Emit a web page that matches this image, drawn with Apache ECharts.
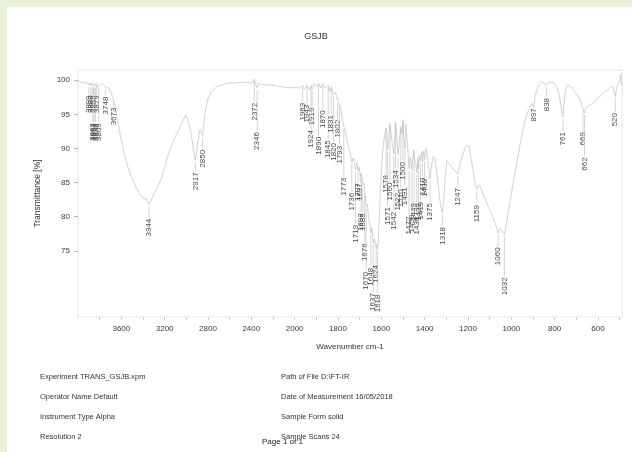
<!DOCTYPE html>
<html>
<head>
<meta charset="utf-8">
<script src="https://cdn.jsdelivr.net/npm/echarts@6/dist/echarts.min.js"></script>
<style>
html,body{margin:0;padding:0;background:#e8f0dc;}
#paper{position:absolute;left:7px;top:7px;width:625px;height:445px;background:#ffffff;}
#chart{position:absolute;left:0;top:0;width:632px;height:452px;}
</style>
</head>
<body>
<div id="paper"></div>
<div id="chart"></div>
<script>
// ---- spectrum (wavenumber cm-1, transmittance %) ----
const wavenumbers = [
4000,3980,3960,3940,3920,3900,3890,3880,3870,3855,3845,3838,3828,3819,3809,3790,3770,3748,3730,3710,3690,3673,3660,3640,3620,3600,3570,3540,3500,3460,3430,3400,3385,3370,3344,3320,3290,3260,3230,3200,3170,3140,3100,3060,3030,3005,2990,2970,2950,2935,2917,2905,2890,2875,2862,2850,2838,2820,2800,2770,2740,2700,2650,2600,2550,2500,2450,2400,2380,2372,2365,2355,2346,2338,2320,2300,2260,2220,2180,2140,2100,2060,2030,2000,
1990,1980,1963,1955,1943,1930,1924,1919,1910,1900,1890,1880,1870,1860,1845,1838,1831,1820,1810,1802,1793,1785,1780,1773,1766,1758,1750,1743,1736,1730,1724,1719,1713,1707,1702,1697,1693,1689,1685,1680,1676,1670,1664,1658,1652,1648,1643,1637,1632,1628,1624,1620,1618,1614,1610,1605,1600,1595,1590,1585,1578,1575,1571,1566,1560,1555,1549,1542,1537,1534,1529,1522,1517,1510,1505,1500,1496,1491,1487,1483,1478,1472,1467,1462,1459,1455,1450,1445,1440,1436,1432,1429,1425,1419,1414,1410,1405,1400,1394,1388,1382,1375,1368,1360,1352,1344,1335,1326,1318,1312,1305,1298,1290,1280,1270,1260,1247,1238,1228,1215,1205,1195,1185,1175,1165,1159,1150,1140,1130,1115,1100,1085,1070,1060,1052,1045,1038,1032,1025,1015,1005,995,985,975,965,955,945,935,925,915,905,897,890,880,870,860,850,838,828,815,800,790,780,772,766,761,756,750,740,725,710,700,690,680,672,669,665,662,656,645,630,615,600,585,570,555,540,530,525,520,515,508,500,495,491,489
];
const transmittance = [
99.9,99.8,99.7,99.6,99.7,99.3,99.6,99.2,99.6,99.1,99.5,99.2,99.5,99.0,99.2,99.5,99.4,99.0,99.2,98.8,98.0,97.2,96.3,94.6,92.8,91.2,89.0,87.3,85.6,84.2,83.3,82.7,82.9,82.6,81.8,82.6,83.5,84.6,85.6,87.2,89.0,90.3,91.8,93.0,94.1,94.9,94.9,93.4,91.6,90.0,88.3,89.5,91.5,92.7,92.5,91.9,93.6,95.8,97.3,98.3,98.8,99.2,99.4,99.6,99.6,99.7,99.7,99.6,99.6,100.2,99.5,99.4,98.9,99.5,99.5,99.4,99.3,99.3,99.2,99.1,99.0,98.9,98.9,98.9,
99.0,98.8,99.2,98.7,99.3,98.6,99.2,98.7,99.5,99.1,99.6,98.9,99.5,98.8,99.3,98.4,99.0,97.9,98.2,97.0,96.6,95.5,94.4,93.2,92.6,91.0,90.1,89.2,88.0,88.6,87.7,86.9,87.9,86.7,87.3,85.9,86.4,85.4,84.6,84.9,83.5,81.5,81.8,79.6,78.8,77.6,78.3,76.2,76.8,75.9,75.5,75.9,75.2,76.5,79.5,83.0,86.5,89.0,90.6,91.8,93.0,92.0,89.8,91.5,93.6,92.2,90.6,89.2,91.8,93.8,92.0,89.0,91.0,93.2,92.1,94.2,91.4,90.0,93.5,92.0,90.0,87.0,88.7,88.0,86.8,88.5,89.8,88.2,87.6,86.4,88.5,87.0,89.0,88.1,89.5,88.0,89.6,88.4,90.0,89.0,87.5,85.6,87.5,88.8,88.5,86.5,84.0,81.5,80.6,82.5,85.5,88.2,88.4,87.6,87.0,86.7,86.3,87.5,88.8,89.9,90.5,90.3,88.5,86.5,84.5,84.0,84.6,84.2,83.2,82.2,81.0,79.9,78.6,77.6,78.3,78.1,77.7,77.4,78.5,80.5,82.4,84.3,86.0,87.8,89.6,91.3,92.9,94.3,95.3,96.0,96.6,96.0,97.6,98.8,99.4,99.7,99.6,99.3,99.7,99.7,99.5,99.0,98.0,96.5,95.0,94.6,96.8,98.6,99.3,99.0,98.5,98.0,97.5,96.9,96.2,95.8,95.9,95.2,96.0,96.2,96.5,96.8,97.4,97.8,98.3,98.6,99.1,99.0,98.2,97.6,98.5,99.4,99.8,100.8,99.6,99.3
];
// ---- peak annotations: wavenumber and the transmittance level where its label starts ----
const peakWavenumbers = [3899,3880,3855,3829,3863,3853,3839,3809,3748,3673,3344,2917,2850,2372,2346,1963,1943,1919,1924,1890,1870,1845,1831,1820,1802,1793,1773,1736,1719,1707,1697,1693,1685,1676,1670,1648,1637,1624,1618,1578,1571,1560,1542,1534,1522,1510,1500,1491,1472,1459,1449,1436,1429,1419,1410,1400,1375,1318,1247,1159,1060,1032,897,838,761,669,662,520];
const peakLabelLevels = [97.8,97.8,97.8,97.8,93.7,93.7,93.7,93.7,97.6,96.0,79.7,86.5,89.8,96.7,92.4,96.7,96.4,96.0,92.7,91.7,95.6,91.2,94.9,90.8,94.2,90.4,85.7,83.5,78.8,84.9,84.9,80.5,80.5,76.1,71.9,72.5,68.8,72.9,68.6,86.1,81.4,85.0,80.7,86.8,83.5,84.0,88.0,84.3,80.0,80.3,82.0,80.0,82.0,82.2,85.7,85.5,82.0,78.5,84.2,81.7,75.5,71.1,95.9,97.4,92.4,92.4,88.7,95.2];
// ---- axis tick labels ----
const xTickLabels = [3600,3200,2800,2400,2000,1800,1600,1400,1200,1000,800,600];
const xMinorTicks = [3800,3400,3000,2600,2200,1900,1700,1500,1300,1100,900,700,500];
const yTickLabels = [75,80,85,90,95,100];

// Wavenumber axis is compressed by a factor 2 above 2000 cm-1 (OPUS style)
function toT(w){ return w > 2000 ? 2000 + (w - 2000) / 2 : w; }
function fromT(t){ return t > 2000 ? 2000 + (t - 2000) * 2 : t; }
function curveAt(w){
  for (let i = 0; i < wavenumbers.length - 1; i++) {
    const a = wavenumbers[i], b = wavenumbers[i+1];
    if (w <= a && w >= b) {
      const f = (a - w) / (a - b);
      return transmittance[i] + f * (transmittance[i+1] - transmittance[i]);
    }
  }
  return transmittance[transmittance.length - 1];
}

const lineData = wavenumbers.map((w, i) => [toT(w), transmittance[i]]);
const peakData = peakWavenumbers.map((w, i) => [toT(w), peakLabelLevels[i], curveAt(w), w]);
const tickValues = xTickLabels.concat(xMinorTicks).map(toT);

const FONT = '"Liberation Sans", Arial, sans-serif';
const chart = echarts.init(document.getElementById('chart'), null, {renderer:'canvas'});
chart.setOption({
  backgroundColor: 'transparent',
  animation: false,
  title: {text:'GSJB', left:'center', top:27, textStyle:{fontSize:9, fontWeight:'normal', color:'#333', fontFamily:FONT}},
  grid: {left:78, right:10, top:70, bottom:135, show:true, borderColor:'#d0d0d0', borderWidth:1, borderType:'dotted', backgroundColor:'transparent'},
  xAxis: {
    type:'value', inverse:true, min:489, max:3000,
    name:'Wavenumber cm-1', nameLocation:'middle', nameGap:26,
    nameTextStyle:{fontSize:8, color:'#333', fontFamily:FONT},
    axisLine:{show:false},
    splitLine:{show:false},
    axisTick:{show:true, length:3, lineStyle:{color:'#c4c4c4', width:0.8}, customValues: tickValues},
    axisLabel:{fontSize:8, color:'#3a3a3a', fontFamily:FONT, margin:8, customValues: xTickLabels.map(toT),
      formatter: v => String(Math.round(fromT(v)))}
  },
  yAxis: {
    type:'value', min:65.3, max:101.5,
    name:'Transmittance [%]', nameLocation:'middle', nameGap:36, nameRotate:90,
    nameTextStyle:{fontSize:8.5, color:'#333', fontFamily:FONT},
    axisLine:{show:false},
    splitLine:{show:false},
    axisTick:{show:true, length:4, lineStyle:{color:'#a8a8a8', width:0.8}, customValues: yTickLabels},
    axisLabel:{fontSize:8, color:'#3a3a3a', fontFamily:FONT, margin:8, customValues: yTickLabels}
  },
  series: [
    {type:'line', data: lineData, showSymbol:false, smooth:false,
     lineStyle:{color:'#bdbdbd', width:0.7}, z:3},
    {type:'custom', data: peakData, z:4, clip:false,
     renderItem: function(params, api){
       const t = api.value(0);
       const top = api.coord([t, api.value(1)]);
       const c = api.coord([t, api.value(2)]);
       const children = [];
       if (top[1] - 1 > c[1] + 2) {
         children.push({type:'line', shape:{x1:top[0], y1:c[1]+2, x2:top[0], y2:top[1]-1},
           style:{stroke:'#b8b8b8', lineWidth:0.6}});
       }
       children.push({type:'text', x:top[0], y:top[1], rotation:Math.PI/2,
         style:{text:String(api.value(3)), align:'right', verticalAlign:'middle',
           font:'8px ' + FONT, fill:'#4a4a4a'}});
       return {type:'group', children: children};
     }}
  ],
  graphic: [
    {type:'text', x:40, y:377, style:{text:'Experiment TRANS_GSJB.xpm', font:'7.5px ' + FONT, fill:'#333', verticalAlign:'middle'}},
    {type:'text', x:40, y:397, style:{text:'Operator Name Default', font:'7.5px ' + FONT, fill:'#333', verticalAlign:'middle'}},
    {type:'text', x:40, y:417, style:{text:'Instrument Type Alpha', font:'7.5px ' + FONT, fill:'#333', verticalAlign:'middle'}},
    {type:'text', x:40, y:437, style:{text:'Resolution 2', font:'7.5px ' + FONT, fill:'#333', verticalAlign:'middle'}},
    {type:'text', x:281, y:377, style:{text:'Path of File D:\\FT-IR', font:'7.5px ' + FONT, fill:'#333', verticalAlign:'middle'}},
    {type:'text', x:281, y:397, style:{text:'Date of Measurement 16/05/2018', font:'7.5px ' + FONT, fill:'#333', verticalAlign:'middle'}},
    {type:'text', x:281, y:417, style:{text:'Sample Form solid', font:'7.5px ' + FONT, fill:'#333', verticalAlign:'middle'}},
    {type:'text', x:281, y:437, style:{text:'Sample Scans 24', font:'7.5px ' + FONT, fill:'#333', verticalAlign:'middle'}},
    {type:'text', x:262, y:442, style:{text:'Page 1 of 1', font:'8px ' + FONT, fill:'#222', verticalAlign:'middle'}}
  ]
});
</script>
</body>
</html>
